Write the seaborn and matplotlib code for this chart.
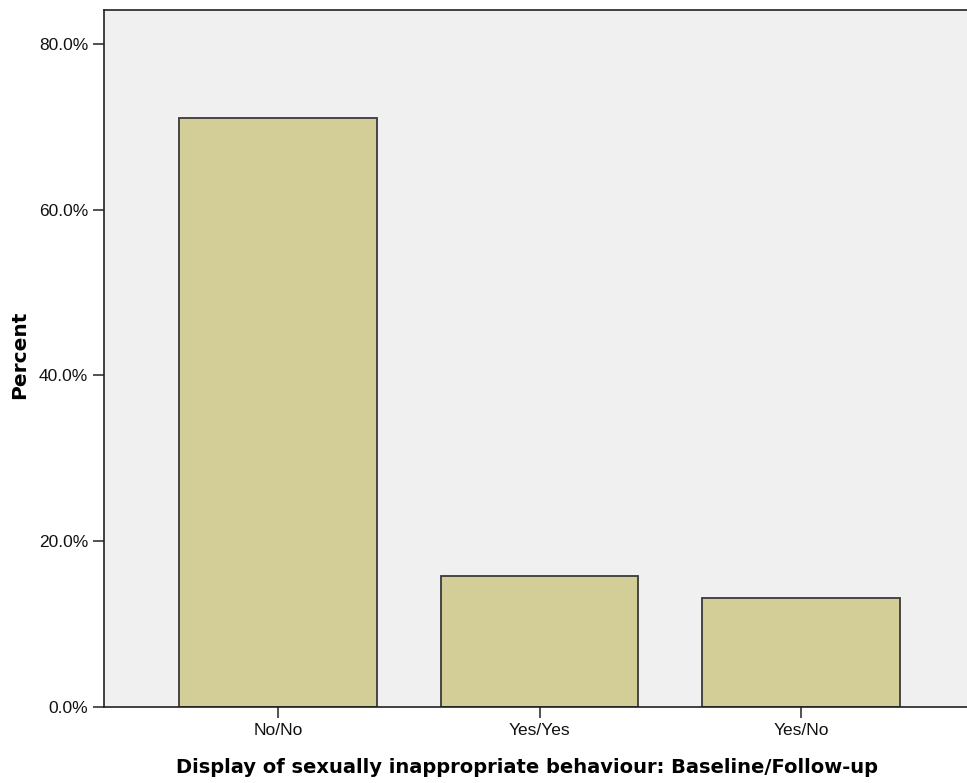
import pandas as pd
import seaborn as sns
import matplotlib.pyplot as plt
from matplotlib.ticker import PercentFormatter

# values
categories = ["No/No", "Yes/Yes", "Yes/No"]
percents = [71.1, 15.8, 13.2]

df = pd.DataFrame({"group": categories, "percent": percents})

sns.set_style("white")
plt.rcParams["font.family"] = ["Liberation Sans", "DejaVu Sans"]

fig = plt.figure(figsize=(9.67, 7.83), dpi=100)
ax = fig.add_axes([104 / 967, 1 - 707 / 783, 871 / 967, 697 / 783])
ax.set_facecolor("#f0f0f0")

sns.barplot(data=df, x="group", y="percent", color="#d3ce97", saturation=1,
            width=0.754, edgecolor="#3a3a3a", linewidth=1.3, ax=ax)

ax.set_ylim(0, 84.1)
ax.set_xlim(-0.665, 2.665)
ax.set_yticks([0, 20, 40, 60, 80])
ax.yaxis.set_major_formatter(PercentFormatter(decimals=1))

for side in ["left", "top", "bottom"]:
    ax.spines[side].set_color("#222222")
    ax.spines[side].set_linewidth(1.2)
ax.spines["right"].set_visible(False)

ax.tick_params(axis="both", direction="out", length=8, width=1.2, color="#333333",
               labelsize=12.5, labelcolor="#111111", left=True, bottom=True)

ax.set_xlabel("Display of sexually inappropriate behaviour: Baseline/Follow-up",
              fontsize=14, fontweight="bold", family="DejaVu Sans", color="black")
ax.set_ylabel("Percent", fontsize=14.5, fontweight="bold", family="DejaVu Sans",
              color="black")
# label positions in axes coordinates
ax.xaxis.set_label_coords(0.486, -0.073)
ax.yaxis.set_label_coords(-0.086, 0.505)

fig.savefig("out.png", dpi=100)
